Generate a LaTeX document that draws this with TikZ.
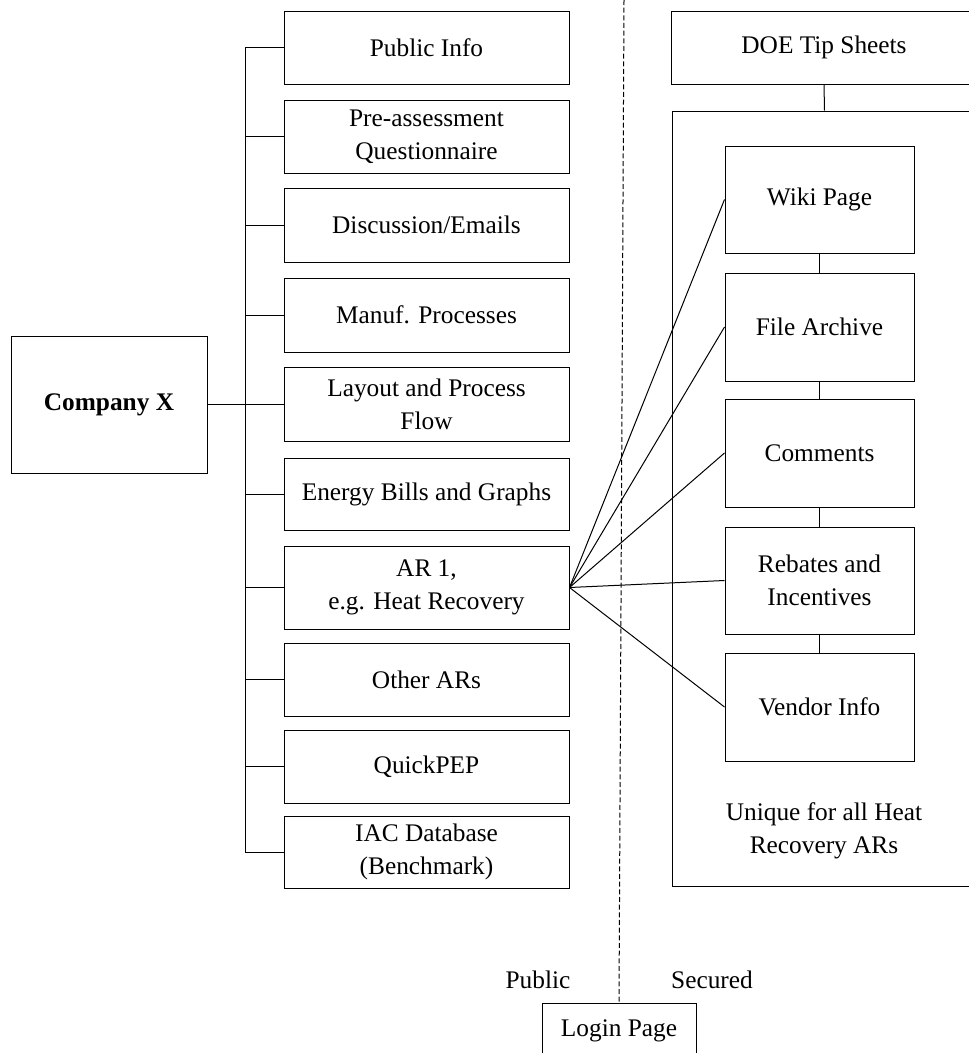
\documentclass[tikz,border=0pt]{standalone}
\usepackage{fontspec}
\setmainfont{Liberation Serif}
\begin{document}
\begin{tikzpicture}[x=0.75pt,y=-0.75pt,
  line width=0.75pt,
  txt/.style={font=\fontsize{19}{25}\selectfont, align=center},
  pbox/.style={draw, inner sep=0pt, txt},
]
\useasboundingbox (0,0) rectangle (969,1053);

% box from corner (x1,y1) to (x2,y2), in picture units
\newcommand{\boxfrom}[6]{%
  \node[pbox, minimum width={(#4-#2)*0.75pt}, minimum height={(#5-#3)*0.75pt}]
    (#1) at ({(#2+#4)/2},{(#3+#5)/2}) {#6};}

% company and its documents
\boxfrom{comp}{11}{336}{207}{473}{\textbf{Company X}}
\boxfrom{pub}{284}{11}{569}{84}{Public Info}
\boxfrom{pre}{284}{100}{569}{173}{Pre-assessment\\Questionnaire}
\boxfrom{disc}{284}{188}{569}{262}{Discussion/Emails}
\boxfrom{manuf}{284}{278}{569}{352}{Manuf. Processes}
\boxfrom{layout}{284}{367}{569}{441}{Layout and Process\\Flow}
\boxfrom{bills}{284}{458}{569}{530}{Energy Bills and Graphs}
\boxfrom{ar}{284}{546}{569}{629}{AR 1,\\e.g. Heat Recovery}
\boxfrom{other}{284}{643}{569}{716}{Other ARs}
\boxfrom{qpep}{284}{730}{569}{803}{QuickPEP}
\boxfrom{iac}{284}{816}{569}{888}{IAC Database\\(Benchmark)}

% tree connector
\coordinate (bus) at (245,0);
\draw (pub.west -| bus) -- (iac.west -| bus);
\draw[line width=1.3pt] (comp.east) -- (comp.east -| bus);
\foreach \b in {pub,pre,disc,manuf,layout,bills,ar,other,qpep,iac}
  \draw (\b.west) -- (\b.west -| bus);

% secured area
\boxfrom{doe}{671}{11}{977}{84}{DOE Tip Sheets}
\boxfrom{hr}{672}{111}{977}{886}{}
\draw (doe.south) -- (hr.north);
\boxfrom{wiki}{725}{146}{914}{253}{Wiki Page}
\boxfrom{file}{725}{273}{914}{381}{File Archive}
\boxfrom{comm}{725}{399}{914}{507}{Comments}
\boxfrom{reb}{725}{527}{914}{634}{Rebates and\\Incentives}
\boxfrom{vend}{725}{653}{914}{761}{Vendor Info}
\node[txt] (uniq) at (824,831) {Unique for all Heat\\Recovery ARs};
\draw (wiki.south) -- (file.north);
\draw (file.south) -- (comm.north);
\draw (comm.south) -- (reb.north);
\draw (reb.south) -- (vend.north);
\foreach \t in {wiki,file,comm,reb,vend}
  \draw (ar.east) -- (\t.west);

% public / secured divide
\boxfrom{login}{542}{1003}{696}{1058}{Login Page}
\coordinate (divtop) at (624,0);
\draw[dash pattern=on 3.75pt off 2pt] (divtop) -- (login.north);
\node[txt, anchor=base] (publ) at (538,988) {Public};
\node[txt, anchor=base] (secd) at (712,988) {Secured};
\end{tikzpicture}
\end{document}
